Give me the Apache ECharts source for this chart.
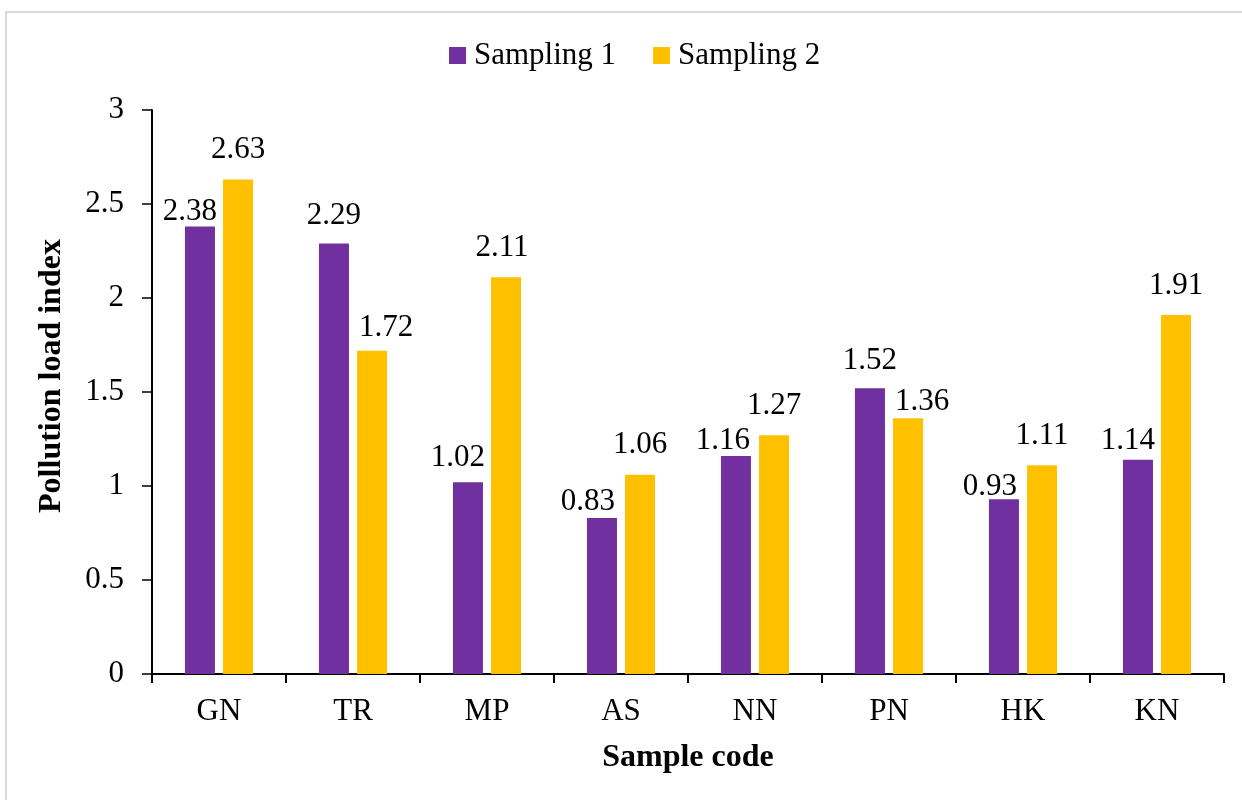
<!DOCTYPE html>
<html>
<head>
<meta charset="utf-8">
<title>Pollution load index by sample code</title>
<script src="https://cdn.jsdelivr.net/npm/echarts@6/dist/echarts.min.js"></script>
<style>
  html, body { margin: 0; padding: 0; background: #ffffff; }
  #chart { width: 1242px; height: 800px; }
</style>
</head>
<body>
<div id="chart"></div>
<script>
// Sample sites and pollution load index for two sampling campaigns
const categories = ['GN', 'TR', 'MP', 'AS', 'NN', 'PN', 'HK', 'KN'];
const sampling1 = [2.38, 2.29, 1.02, 0.83, 1.16, 1.52, 0.93, 1.14];
const sampling2 = [2.63, 1.72, 2.11, 1.06, 1.27, 1.36, 1.11, 1.91];
const seriesNames = ['Sampling 1', 'Sampling 2'];
const yTicks = { min: 0, max: 3, interval: 0.5 };

// Label nudges [dx, dy] so neighbouring value labels do not collide
const labelShift1 = [[-10, 15], [0, 2], [-10, 5], [-14, 13], [-13, 14], [0, 2], [-14, 17], [-10, 11]];
const labelShift2 = [[0, 0], [14, 7], [-4, 0], [0, 0], [0, 0], [14, 13], [0, 0], [0, 0]];

const FONT = "'Liberation Serif', 'Times New Roman', serif";
const PURPLE = '#7030A0';
const GOLD = '#FFC000';

const chart = echarts.init(document.getElementById('chart'), null, { renderer: 'canvas' });

const baseLabel = {
  show: true,
  position: 'top',
  distance: 14,
  color: '#000',
  fontFamily: FONT,
  fontSize: 31,
  formatter: p => p.value.toFixed(2)
};

function barData(values, shifts) {
  return values.map((v, i) => ({
    value: v,
    label: { offset: shifts[i] }
  }));
}

chart.setOption({
  animation: false,
  backgroundColor: '#ffffff',
  textStyle: { fontFamily: FONT },
  graphic: [{
    type: 'rect',
    silent: true,
    z: -10,
    shape: { x: 6, y: 12, width: 1400, height: 1000 },
    style: { fill: 'none', stroke: '#d9d9d9', lineWidth: 2 }
  }],
  legend: {
    data: seriesNames,
    top: 35,
    left: 444,
    icon: 'rect',
    itemWidth: 17,
    itemHeight: 17,
    itemGap: 37,
    textStyle: { fontFamily: FONT, fontSize: 31, color: '#000', padding: [0, 0, 0, 3] }
  },
  grid: { left: 152, right: 18, top: 110, bottom: 126, containLabel: false },
  xAxis: {
    type: 'category',
    data: categories,
    name: 'Sample code',
    nameLocation: 'middle',
    nameGap: 68,
    nameTextStyle: { fontFamily: FONT, fontSize: 32, fontWeight: 'bold', color: '#000' },
    axisLine: { show: true, lineStyle: { color: '#000', width: 2 } },
    axisTick: { show: true, length: 9, inside: false, alignWithLabel: false, lineStyle: { color: '#000', width: 2 } },
    axisLabel: { fontFamily: FONT, fontSize: 31, color: '#000', margin: 22 },
    splitLine: { show: false }
  },
  yAxis: {
    type: 'value',
    min: yTicks.min,
    max: yTicks.max,
    interval: yTicks.interval,
    name: 'Pollution load index',
    nameLocation: 'middle',
    nameGap: 84,
    nameRotate: 90,
    nameTextStyle: { fontFamily: FONT, fontSize: 32, fontWeight: 'bold', color: '#000', padding: [0, 0, 0, 32] },
    axisLine: { show: true, lineStyle: { color: '#000', width: 2 } },
    axisTick: { show: true, length: 10, inside: false, lineStyle: { color: '#000', width: 1.5 } },
    axisLabel: { fontFamily: FONT, fontSize: 31, color: '#000', margin: 28, formatter: v => String(v) },
    splitLine: { show: false }
  },
  series: [
    {
      name: seriesNames[0],
      type: 'bar',
      data: barData(sampling1, labelShift1),
      barWidth: 30,
      barGap: '27%',
      itemStyle: { color: PURPLE },
      label: baseLabel
    },
    {
      name: seriesNames[1],
      type: 'bar',
      data: barData(sampling2, labelShift2),
      barWidth: 30,
      barGap: '27%',
      itemStyle: { color: GOLD },
      label: baseLabel
    }
  ]
});
</script>
</body>
</html>
